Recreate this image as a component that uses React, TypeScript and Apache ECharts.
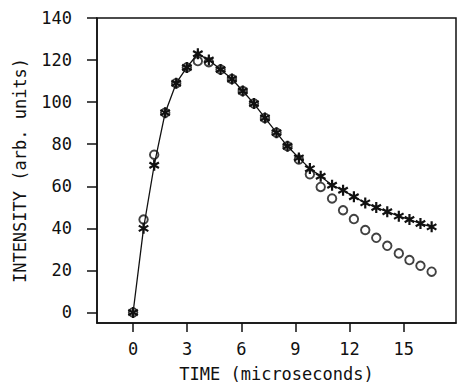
import React, { useEffect, useRef } from "react";
import * as echarts from "echarts";

// time (microseconds)
const timeValues = [0, 0.58, 1.17, 1.78, 2.39, 2.98, 3.59, 4.2, 4.85, 5.48, 6.08, 6.7, 7.31, 7.95, 8.56, 9.19, 9.8, 10.4, 11.03, 11.64, 12.24, 12.87, 13.48, 14.09, 14.73, 15.32, 15.93, 16.55];
// asterisk series (joined by the solid line)
const starValues = [0, 40, 70, 95, 109, 116.5, 123, 120, 115.5, 111, 105.3, 99.3, 92.5, 85.5, 79, 73.5, 68.4, 64.8, 60.5, 58.1, 55, 52.1, 49.9, 47.9, 45.8, 44.2, 42.3, 40.7];
// open-circle series
const circleValues = [0, 44.2, 75, 95, 109, 116.5, 119.5, 119, 115.5, 111, 105.3, 99.3, 92.5, 85.5, 79, 72.7, 65.7, 59.7, 54.2, 48.6, 44.4, 39.2, 35.5, 31.7, 28.1, 24.9, 22.2, 19.4];

const xTicks = [0, 3, 6, 9, 12, 15];
const yTicks = [0, 20, 40, 60, 80, 100, 120, 140];

const FONT = "DejaVu Sans Mono";
const ASTERISK =
  "path://M-1.2,-6L1.2,-6L1.2,6L-1.2,6Z M-5.796,-1.96L-4.596,-4.04L5.796,1.96L4.596,4.04Z M4.596,-4.04L5.796,-1.96L-4.596,4.04L-5.796,1.96Z";

export default function App() {
  const ref = useRef<HTMLDivElement>(null);
  useEffect(() => {
    if (!ref.current) return;
    const chart = echarts.init(ref.current, undefined, { renderer: "svg" });
    const stars = timeValues.map((t, i) => [t, starValues[i]]);
    const circles = timeValues.map((t, i) => [t, circleValues[i]]);
    chart.setOption({
      animation: false,
      backgroundColor: "#ffffff",
      grid: {
        left: 97,
        top: 18,
        width: 359,
        height: 305,
        outerBoundsMode: "none",
        containLabel: false,
        show: true,
        borderColor: "#111",
        borderWidth: 1.5,
        backgroundColor: "transparent",
      },
      xAxis: {
        type: "value",
        min: -2,
        max: 17.9,
        name: "TIME (microseconds)",
        nameLocation: "middle",
        nameGap: 42,
        nameTextStyle: { fontFamily: FONT, fontSize: 17, color: "#111" },
        axisLine: { show: true, onZero: false, lineStyle: { color: "#111", width: 1.5 } },
        axisTick: { show: true, length: 9, customValues: xTicks, lineStyle: { color: "#111", width: 1.5 } },
        axisLabel: { customValues: xTicks, margin: 17, fontFamily: FONT, fontSize: 17, color: "#111" },
        splitLine: { show: false },
      },
      yAxis: {
        type: "value",
        min: -5,
        max: 140,
        name: "INTENSITY (arb. units)",
        nameLocation: "middle",
        nameGap: 69,
        nameRotate: 90,
        nameTextStyle: { fontFamily: FONT, fontSize: 17, color: "#111" },
        axisLine: { show: true, onZero: false, lineStyle: { color: "#111", width: 1.5 } },
        axisTick: { show: true, length: 10, customValues: yTicks, lineStyle: { color: "#111", width: 1.5 } },
        axisLabel: { customValues: yTicks, margin: 25, fontFamily: FONT, fontSize: 17, color: "#111" },
        splitLine: { show: false },
      },
      series: [
        {
          type: "line",
          data: stars,
          symbol: ASTERISK,
          symbolSize: 11,
          symbolKeepAspect: true,
          showAllSymbol: true,
          lineStyle: { color: "#111", width: 1.3 },
          itemStyle: { color: "#111", borderWidth: 0 },
          z: 2,
        },
        {
          type: "scatter",
          data: circles,
          symbol: "circle",
          symbolSize: 8.5,
          itemStyle: { color: "transparent", borderColor: "#111", borderWidth: 1.9 },
          z: 3,
        },
      ],
    });
    return () => chart.dispose();
  }, []);
  return <div ref={ref} style={{ width: 458, height: 382, position: "absolute", left: 0, top: 0 }} />;
}
